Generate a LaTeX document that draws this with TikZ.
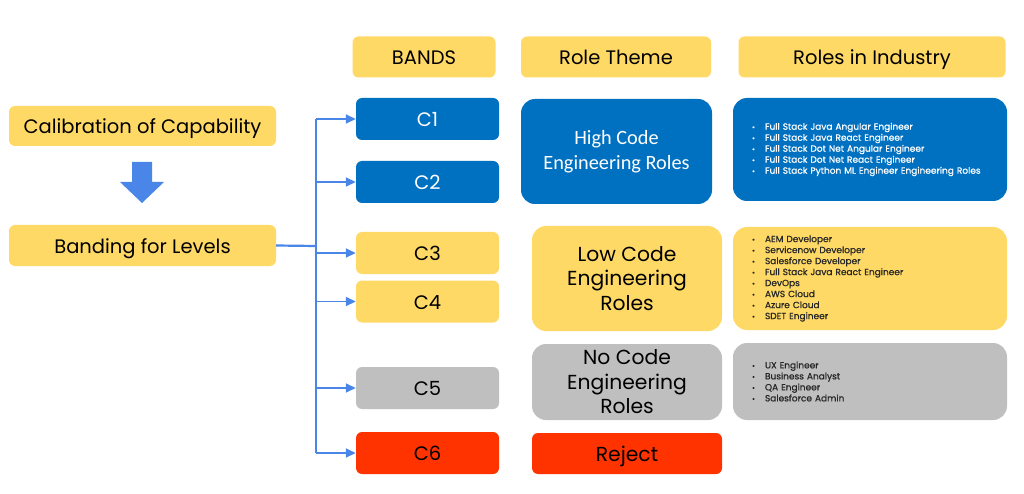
\documentclass[tikz,border=0pt]{standalone}
\usepackage{fontspec}
\setmainfont{Poppins}
\newfontfamily\calibri{Carlito}
\newfontfamily\listfont{Poppins}[FakeBold=0.8]
\usetikzlibrary{arrows.meta,positioning}
\definecolor{bandblue}{HTML}{0070C0}
\definecolor{bandyellow}{HTML}{FFD966}
\definecolor{bandgrey}{HTML}{BFBFBF}
\definecolor{bandred}{HTML}{FF3300}
\definecolor{linkblue}{HTML}{4A86E8}
\newcommand{\itm}{\makebox[13pt][l]{\scalebox{.8}{\textbullet}}}

\begin{document}
\begin{tikzpicture}[x=1pt, y=-1pt,
  box/.style={rectangle, fill=#1, rounded corners=6pt, inner sep=0pt, align=center,
    font=\fontsize{19.5}{24}\selectfont, text height=15pt, text depth=0pt},
  theme/.style={box=#1, rounded corners=14pt, minimum width=190pt, text height=, text depth=,
    font=\fontsize{20.3}{24.5}\selectfont},
  rolelist/.style={box=#1, rounded corners=14pt, minimum width=274pt, align=left,
    text height=, text depth=,
    text width=236pt, inner xsep=19pt, font=\listfont\fontsize{9}{11}\selectfont},
  link/.style={draw=linkblue, line width=1.6pt},
  linkarr/.style={link, -{Triangle[length=10pt, width=9pt]}}
]
  \useasboundingbox (0,0) rectangle (1024,494);

  % column headers
  \node[box=bandyellow, minimum width=143pt, minimum height=41pt] (hbands) at (424,57) {BANDS};
  \node[box=bandyellow, minimum width=190pt, minimum height=41pt] (htheme) at (616,57) {Role Theme};
  \node[box=bandyellow, minimum width=267pt, minimum height=41pt] (hroles) at (872,57) {Roles in Industry};

  % left side
  \node[box=bandyellow, minimum width=267pt, minimum height=40pt] (calib) at (142.5,126) {Calibration of Capability};
  \node[box=bandyellow, minimum width=267pt, minimum height=41pt] (band) at (142.5,245.5) {Banding for Levels};
  \fill[linkblue] (132,162) -- (152,162) -- (152,182) -- (164,182) -- (142,203)
    -- (120,182) -- (132,182) -- cycle;

  % bands
  \node[box=bandblue, text=white, minimum width=143pt, minimum height=42pt] (c1) at (427.5,119) {C1};
  \node[box=bandblue, text=white, minimum width=143pt, minimum height=42pt] (c2) at (427.5,182) {C2};
  \node[box=bandyellow, minimum width=143pt, minimum height=42pt] (c3) at (427.5,253) {C3};
  \node[box=bandyellow, minimum width=143pt, minimum height=42pt] (c4) at (427.5,301.5) {C4};
  \node[box=bandgrey, minimum width=143pt, minimum height=42pt] (c5) at (427.5,388) {C5};
  \node[box=bandred, minimum width=143pt, minimum height=42pt] (c6) at (427.5,453) {C6};

  % connectors
  \coordinate (hub) at (316,246);
  \draw[link, line width=2.2pt] (band.east) -- (hub);
  \draw[link] (hub |- c1.west) -- (hub |- c6.west);
  \foreach \b in {c1,c2,c3,c4,c5,c6}
    \draw[linkarr] (hub |- \b.west) -- (\b.west);

  % role themes
  \node[theme=bandblue, text=white, minimum width=191pt, minimum height=105pt,
    font=\calibri\fontsize{20.3}{25}\selectfont] (high) at (616.5,151.5) {High Code\\Engineering Roles};
  \node[theme=bandyellow, minimum height=105pt] (low) at (627,278.5) {Low Code\\Engineering\\Roles};
  \node[theme=bandgrey, minimum height=76pt] (nocode) at (627,382) {No Code\\Engineering\\Roles};
  \node[box=bandred, minimum width=190pt, minimum height=41pt, font=\fontsize{20.3}{24.5}\selectfont] (reject) at (627,453.5) {Reject};

  % roles in industry
  \node[rolelist=bandblue, text=white, minimum height=103pt] (rhigh) at (870,149.5) {%
    \itm Full Stack Java Angular Engineer\\
    \itm Full Stack Java React Engineer\\
    \itm Full Stack Dot Net Angular Engineer\\
    \itm Full Stack Dot Net React Engineer\\
    \itm Full Stack Python ML Engineer Engineering Roles};
  \node[rolelist=bandyellow, text=black!85, minimum height=103pt] (rlow) at (870,278.5) {%
    \itm AEM Developer\\
    \itm Servicenow Developer\\
    \itm Salesforce Developer\\
    \itm Full Stack Java React Engineer\\
    \itm DevOps\\
    \itm AWS Cloud\\
    \itm Azure Cloud\\
    \itm SDET Engineer};
  \node[rolelist=bandgrey, text=black!85, minimum height=77pt] (rno) at (870,381.5) {%
    \itm UX Engineer\\
    \itm Business Analyst\\
    \itm QA Engineer\\
    \itm Salesforce Admin};
\end{tikzpicture}
\end{document}
